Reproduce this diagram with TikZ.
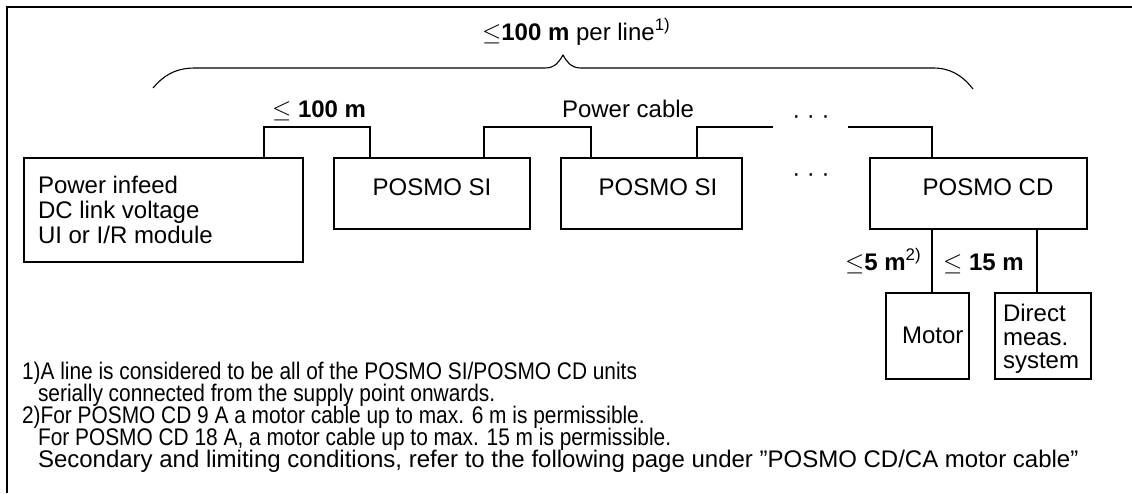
\documentclass[tikz,border=0pt]{standalone}
\usepackage{fontspec}
\setmainfont{Liberation Sans}
\begin{document}
\begin{tikzpicture}[x=1pt,y=-1pt,
  line width=1.1pt,
  box/.style={draw, inner sep=0pt, outer sep=0pt, line width=1.1pt},
  txt/.style={inner sep=0pt, outer sep=0pt, font=\fontsize{24}{23.5}\selectfont, anchor=base west},
  ctxt/.style={txt, anchor=base},
  wire/.style={draw, line width=1.1pt}]
\useasboundingbox (0,0) rectangle (1132,493);
% frame
\draw[line width=1.1pt] (7,493) -- (7,7) -- (1132,7);
% title and brace
\node[txt] (title) at (482,40) {$\leq$\textbf{100 m} per line\textsuperscript{1)}};
\draw[line width=1.1pt] (153,88) .. controls (163,76) and (175,68) .. (195,68) -- (545,68)
  .. controls (555,68) and (559,62) .. (563,55)
  .. controls (567,62) and (571,68) .. (581,68) -- (933,68)
  .. controls (950,68) and (962,75) .. (973,89);
% boxes
\node[box, minimum width=279pt, minimum height=104pt] (infeed) at (163.5,210) {};
\node[box, minimum width=196pt, minimum height=71pt] (si1) at (432,193.5) {};
\node[box, minimum width=181pt, minimum height=71pt] (si2) at (651.5,193.5) {};
\node[box, minimum width=217pt, minimum height=71pt] (cd) at (978.5,193.5) {};
\node[box, minimum width=83pt, minimum height=86pt] (motor) at (927.5,336) {};
\node[box, minimum width=96pt, minimum height=86pt] (dms) at (1043,336) {};
% box texts
\node[txt] (inf1) at (38,193) {Power infeed};
\node[txt] (inf2) at (38,218) {DC link voltage};
\node[txt] (inf3) at (38,243) {UI or I/R module};
\node[ctxt] (si1t) at (432,195) {POSMO SI};
\node[ctxt] (si2t) at (658,195) {POSMO SI};
\node[ctxt] (cdt) at (988,195) {POSMO CD};
\node[txt] (motort) at (902,343) {Motor};
\node[txt] (dms1) at (1003,321) {Direct};
\node[txt] (dms2) at (1003,345) {meas.};
\node[txt] (dms3) at (1003,368) {system};
% cables
\draw[wire] (264,0 |- infeed.north) -- (264,127) -- (370,127) -- (370,0 |- si1.north);
\draw[wire] (484,0 |- si1.north) -- (484,127) -- (591,127) -- (591,0 |- si2.north);
\coordinate (gapa) at (773,127);
\coordinate (gapb) at (848,127);
\draw[wire] (697,0 |- si2.north) -- (697,127) -- (gapa);
\draw[wire] (gapb) -- (932,127) -- (932,0 |- cd.north);
\draw[wire] (932,0 |- cd.south) -- (932,0 |- motor.north);
\draw[wire] (1037,0 |- cd.south) -- (1037,0 |- dms.north);
% dots
\node[txt, anchor=center] (dots1) at (811,120) {· · ·};
\node[txt, anchor=center] (dots2) at (811,178) {· · ·};
% cable labels
\node[txt] (l100) at (272,117) {$\leq$ \textbf{100 m}};
\node[txt] (lpc) at (562,117) {Power cable};
\node[txt] (l5) at (845,270) {$\leq$\textbf{5 m}\textsuperscript{2)}};
\node[txt] (l15) at (943,270) {$\leq$ \textbf{15 m}};
% footnotes
\node[txt] (fn1a) at (22,379) {\scalebox{0.87}[1]{1)A line is considered to be all of the POSMO SI/POSMO CD units}};
\node[txt] (fn1b) at (38,401) {\scalebox{0.87}[1]{serially connected from the supply point onwards.}};
\node[txt] (fn2a) at (22,423) {\scalebox{0.87}[1]{2)For POSMO CD 9 A a motor cable up to max. 6 m is permissible.}};
\node[txt] (fn2b) at (38,445) {\scalebox{0.87}[1]{For POSMO CD 18 A, a motor cable up to max. 15 m is permissible.}};
\node[txt] (fn2c) at (38,467) {Secondary and limiting conditions, refer to the following page under ”POSMO CD/CA motor cable”};
\end{tikzpicture}
\end{document}
